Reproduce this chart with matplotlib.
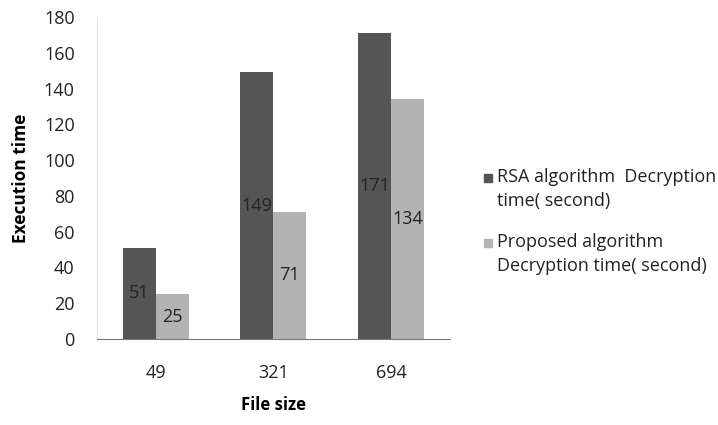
# Decryption time comparison bar chart

import matplotlib.pyplot as plt
from matplotlib.patches import Rectangle
import numpy as np

file_sizes = ['49', '321', '694']
rsa_times = [51, 149, 171]
proposed_times = [25, 71, 134]
legend_labels = ['RSA algorithm  Decryption\ntime( second)',
                 'Proposed algorithm\nDecryption time( second)']
bar_colors = ['#555555', '#b3b3b3']

plt.rcParams['font.family'] = ['Open Sans', 'DejaVu Sans']

fig = plt.figure(figsize=(7.18, 4.25), dpi=100)
ax = fig.add_axes([0.135, 0.2024, 0.4916, 0.7576])

x = np.arange(len(file_sizes))
w = 0.28
b1 = ax.bar(x - w / 2, rsa_times, w, color=bar_colors[0])
b2 = ax.bar(x + w / 2, proposed_times, w, color=bar_colors[1])

# 数值标签放在柱子中间
for bars, vals in ((b1, rsa_times), (b2, proposed_times)):
    for bar, v in zip(bars, vals):
        ax.text(bar.get_x() + bar.get_width() / 2, v / 2, str(v),
                ha='center', va='center', fontsize=13, color='#222222')

ax.set_xlim(-0.5, 2.5)
ax.set_ylim(0, 180)
ax.set_yticks(range(0, 181, 20))
ax.set_xticks(x)
ax.set_xticklabels(file_sizes)
ax.tick_params(length=0, labelsize=13, colors='#222222')
ax.tick_params(axis='x', pad=18)
ax.tick_params(axis='y', pad=16)

for s in ('top', 'right'):
    ax.spines[s].set_visible(False)
ax.spines['left'].set_color('#e6e6e6')
ax.spines['bottom'].set_color('#777777')

ax.set_xlabel('File size', fontsize=12, fontweight='bold', labelpad=10)
ax.set_ylabel('Execution time', fontsize=12.5, fontweight='bold', labelpad=10)

# 图例：方块对齐每项第一行
W, H = 718, 425
for label, color, y in zip(legend_labels, bar_colors, [178, 243]):
    fig.patches.append(Rectangle((484 / W, 1 - (y + 4) / H), 8 / W, 8 / H,
                                 color=color, transform=fig.transFigure))
    fig.text(497 / W, 1 - (y - 10) / H, label, fontsize=13, va='top',
             ha='left', linespacing=1.45, color='#222222')

plt.savefig('out.png')
